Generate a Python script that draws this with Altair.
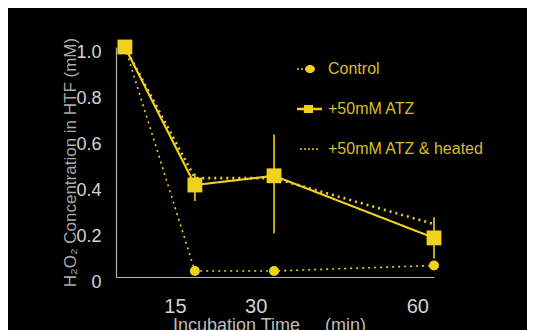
import altair as alt
import pandas as pd

# ---- data ----
series_names = ["Control", "+50mM ATZ", "+50mM ATZ & heated"]
times = [5.7, 18.7, 33.4, 63.1]
control = [1.0, 0.026, 0.026, 0.05]
atz = [1.0, 0.40, 0.44, 0.17]
atz_lo = [None, 0.33, 0.19, 0.08]
atz_hi = [None, 0.45, 0.62, 0.26]
heated = [1.0, 0.43, 0.43, 0.23]
x_ticks = [15, 30, 60]
y_ticks = [0, 0.2, 0.4, 0.6, 0.8, 1.0]

rows = []
for name, vals in zip(series_names, [control, atz, heated]):
    for i, (t, v) in enumerate(zip(times, vals)):
        rows.append({"series": name, "t": t, "v": v, "order": i,
                     "lo": atz_lo[i] if name == "+50mM ATZ" else None,
                     "hi": atz_hi[i] if name == "+50mM ATZ" else None})
df = pd.DataFrame(rows)

YEL = "#f0d21e"
DIM = "#d8bc28"
AXC = "#b4b4b4"
FONT = "Liberation Sans"

xs = alt.Scale(domain=[4.05, 63.1], nice=False, zero=False)
ys = alt.Scale(domain=[0, 1.0], nice=False)

xax = alt.Axis(values=x_ticks, grid=False, ticks=False, domainColor=AXC, domainWidth=1.2,
               labelColor="#d4d4d4", labelFontSize=20, labelFont=FONT, labelPadding=19,
               title="Incubation Time\u00a0\u00a0\u00a0\u00a0\u00a0(min)", titleColor="#bdbdbd",
               titleFont=FONT, titleFontSize=18, titleFontWeight="normal",
               titleX=153, titleY=53, titleAlign="center", titleBaseline="alphabetic")
yax = alt.Axis(values=y_ticks, grid=False, ticks=False, domainColor=AXC, domainWidth=1.2,
               labelColor="#d4d4d4", labelFontSize=18, labelFont=FONT, labelPadding=15,
               labelOffset=5,
               labelExpr="datum.value == 0 ? '0' : format(datum.value, '.1f')",
               title="H\u2082O\u2082 Concentration in HTF (mM)", titleColor="#a8a8a8",
               titleFont=FONT, titleFontSize=17, titleFontWeight="normal",
               titleX=-41, titleY=115, titleAlign="center", titleBaseline="alphabetic",
               titleAngle=270)

base = alt.Chart(df)

lines = base.mark_line(color=YEL).encode(
    x=alt.X("t:Q", scale=xs, axis=xax),
    y=alt.Y("v:Q", scale=ys, axis=yax),
    detail="series:N",
    order="order:Q",
    strokeDash=alt.StrokeDash("series:N", scale=alt.Scale(domain=series_names,
                              range=[[2, 4], [1, 0], [2, 4]]), legend=None),
    strokeWidth=alt.StrokeWidth("series:N", scale=alt.Scale(domain=series_names,
                                range=[1.6, 2.6, 1.6]), legend=None),
)

errs = base.transform_filter("isValid(datum.lo)").mark_rule(color=YEL, strokeWidth=1.6).encode(
    x="t:Q", y="lo:Q", y2="hi:Q")

pts = base.transform_filter(
    "datum.series != '+50mM ATZ & heated'").mark_point(filled=True, opacity=1, color=YEL).encode(
    x="t:Q", y="v:Q",
    shape=alt.Shape("series:N", scale=alt.Scale(domain=series_names[:2], range=["circle", "square"]),
                    legend=None),
    size=alt.Size("series:N", scale=alt.Scale(domain=series_names[:2], range=[100, 220]), legend=None),
)

# legend-only layer: symbols made of a line plus marker, unit = 13 px
p_control = ("M-1,-0.06H-0.85V0.06H-1Z M-0.69,-0.06H-0.54V0.06H-0.69Z "
             "M-0.38,0 A0.38,0.31 0 1,1 0.38,0 A0.38,0.31 0 1,1 -0.38,0 Z")
p_atz = "M-1,-0.1H0.92V0.1H-1Z M-0.47,-0.31H0.23V0.31H-0.47Z"
p_heated = ("M-0.77,-0.06H-0.62V0.06H-0.77Z M-0.46,-0.06H-0.31V0.06H-0.46Z "
            "M-0.15,-0.06H0V0.06H-0.15Z M0.16,-0.06H0.31V0.06H0.16Z M0.47,-0.06H0.62V0.06H0.47Z")

leg = base.mark_point(filled=True, opacity=0, color=YEL).encode(
    x="t:Q", y="v:Q",
    shape=alt.Shape("series:N", scale=alt.Scale(domain=series_names, range=[p_control, p_atz, p_heated]),
                    legend=alt.Legend(title=None, orient="none", legendX=181, legendY=9,
                                      symbolSize=676, symbolOpacity=1, symbolFillColor=YEL,
                                      symbolStrokeWidth=0, labelColor=DIM, labelFont=FONT,
                                      labelFontSize=16, labelOffset=5, rowPadding=19, padding=0,
                                      labelLimit=300)),
)

chart = alt.layer(lines, errs, pts, leg).resolve_scale(shape="independent", size="independent").properties(
    width=318, height=230,
    autosize=alt.AutoSizeParams(type="none"),
    padding={"left": 108, "top": 39, "right": 93, "bottom": 53},
    background="black",
).configure_view(stroke=None)

chart.save("out.html", embed_options={"renderer": "svg", "actions": False})
